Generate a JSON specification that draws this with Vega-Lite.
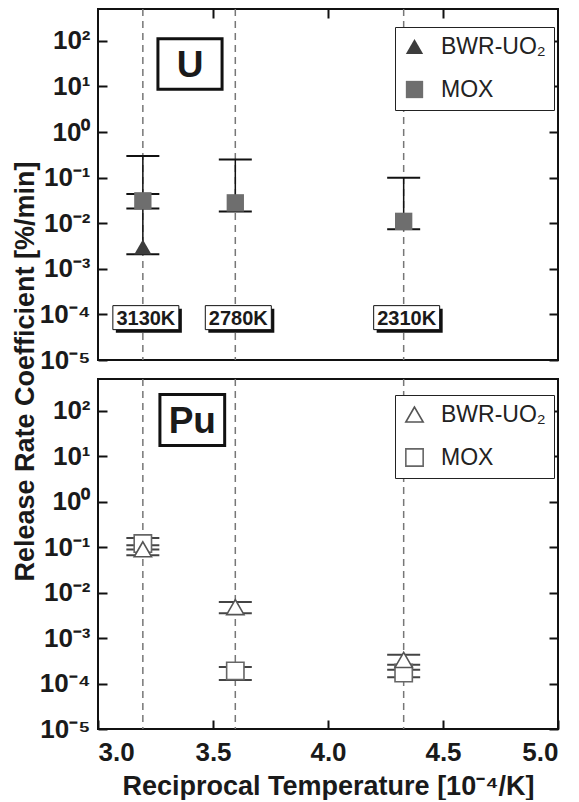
{
  "$schema": "https://vega.github.io/schema/vega-lite/v6.json",
  "background": "white",
  "padding": {"left": 10, "top": 7, "right": 0, "bottom": 0},
  "bounds": "flush",
  "spacing": 19,
  "config": {
    "font": "Liberation Sans",
    "view": {"stroke": "#111", "strokeWidth": 2},
    "axis": {"grid": false}
  },
  "resolve": {
    "scale": {"shape": "independent", "color": "independent", "stroke": "independent"},
    "legend": {"shape": "independent", "color": "independent", "stroke": "independent"}
  },
  "datasets": {
    "temps": [
      {"T": "3130K", "rx": 3.195},
      {"T": "2780K", "rx": 3.597},
      {"T": "2310K", "rx": 4.329}
    ],
    "panels": [{"element": "U"}, {"element": "Pu"}],
    "pts": [
      {"element": "U", "series": "MOX", "rx": 3.195, "value": 0.031, "lo": 0.021, "hi": 0.3},
      {"element": "U", "series": "MOX", "rx": 3.597, "value": 0.028, "lo": 0.018, "hi": 0.25},
      {"element": "U", "series": "MOX", "rx": 4.329, "value": 0.011, "lo": 0.0074, "hi": 0.1},
      {"element": "U", "series": "BWR-UO₂", "rx": 3.195, "value": 0.003, "lo": 0.0021, "hi": 0.044},
      {"element": "Pu", "series": "MOX", "rx": 3.195, "value": 0.12, "lo": 0.089, "hi": 0.16},
      {"element": "Pu", "series": "MOX", "rx": 3.597, "value": 0.00019, "lo": 0.00012, "hi": 0.00023},
      {"element": "Pu", "series": "MOX", "rx": 4.329, "value": 0.00017, "lo": 0.000138, "hi": 0.0002},
      {"element": "Pu", "series": "BWR-UO₂", "rx": 3.195, "value": 0.09, "lo": 0.066, "hi": 0.11},
      {"element": "Pu", "series": "BWR-UO₂", "rx": 3.597, "value": 0.0048, "lo": 0.0035, "hi": 0.0062},
      {"element": "Pu", "series": "BWR-UO₂", "rx": 4.329, "value": 0.00033, "lo": 0.00026, "hi": 0.00043}
    ]
  },
  "vconcat": [
    {
      "width": 460,
      "height": 351,
      "resolve": {"axis": {"y": "independent"}},
      "layer": [
        {
          "data": {"name": "temps"},
          "mark": {"type": "rule", "strokeDash": [7, 5], "color": "#777", "strokeWidth": 1.5},
          "encoding": {
            "x": {"field": "rx", "type": "quantitative", "scale": {"domain": [3, 5], "nice": false},
              "axis": {"orient": "top", "values": [3.5, 4, 4.5], "labels": false, "tickSize": -9, "tickWidth": 2, "tickColor": "#111", "domain": false, "title": null}}
          }
        },
        {
          "data": {"name": "pts"},
          "transform": [{"filter": "datum.element === 'U'"}],
          "mark": {"type": "rule", "color": "#111", "strokeWidth": 1.5},
          "encoding": {
            "x": {"field": "rx", "type": "quantitative"},
            "y": {"field": "lo", "type": "quantitative", "scale": {"type": "log", "domain": [0.00001, 500], "nice": false},
              "axis": {"orient": "left", "values": [0.00001, 0.0001, 0.001, 0.01, 0.1, 1, 10, 100], "tickSize": -9, "tickWidth": 2, "tickColor": "#111", "domain": false,
                "labelFontSize": 26, "labelFontWeight": "bold", "labelColor": "#1a1a1a", "labelPadding": 17,
                "labelExpr": "'10' + replace(replace(replace(replace(replace(replace(replace(toString(round(log(datum.value)/LN10)),'-','⁻'),'0','⁰'),'1','¹'),'2','²'),'3','³'),'4','⁴'),'5','⁵')",
                "title": "Release Rate Coefficient [%/min]", "titleFontSize": 27, "titleFontWeight": "bold", "titleColor": "#1a1a1a", "titleY": 362, "titlePadding": 0}},
            "y2": {"field": "hi"}
          }
        },
        {
          "data": {"name": "pts"},
          "transform": [{"filter": "datum.element === 'U'"}],
          "mark": {"type": "tick", "orient": "horizontal", "size": 33, "thickness": 2, "color": "#111", "opacity": 1},
          "encoding": {
            "x": {"field": "rx", "type": "quantitative"},
            "y": {"field": "lo", "type": "quantitative", "axis": null}
          }
        },
        {
          "data": {"name": "pts"},
          "transform": [{"filter": "datum.element === 'U'"}],
          "mark": {"type": "tick", "orient": "horizontal", "size": 33, "thickness": 2, "color": "#111", "opacity": 1},
          "encoding": {
            "x": {"field": "rx", "type": "quantitative"},
            "y": {"field": "hi", "type": "quantitative", "axis": null}
          }
        },
        {
          "data": {"name": "pts"},
          "transform": [{"filter": "datum.element === 'U'"}],
          "mark": {"type": "point", "filled": true, "size": 300, "opacity": 1},
          "encoding": {
            "x": {"field": "rx", "type": "quantitative"},
            "y": {"field": "value", "type": "quantitative",
              "axis": {"orient": "right", "values": [0.00001, 0.0001, 0.001, 0.01, 0.1, 1, 10, 100], "labels": false, "tickSize": -9, "tickWidth": 2, "tickColor": "#111", "domain": false, "title": null}},
            "shape": {"field": "series", "type": "nominal", "scale": {"domain": ["BWR-UO₂", "MOX"], "range": ["triangle-up", "square"]},
              "legend": {"orient": "none", "legendX": 297, "legendY": 18, "title": null, "strokeColor": "#222", "fillColor": "white", "padding": 8, "rowPadding": 18, "labelOffset": 15, "labelFontSize": 23, "labelColor": "#222", "symbolSize": 300, "symbolOpacity": 1}},
            "color": {"field": "series", "type": "nominal", "scale": {"domain": ["BWR-UO₂", "MOX"], "range": ["#3d3d3d", "#6e6e6e"]},
              "legend": {"orient": "none", "legendX": 297, "legendY": 18, "title": null, "strokeColor": "#222", "fillColor": "white", "padding": 8, "rowPadding": 18, "labelOffset": 15, "labelFontSize": 23, "labelColor": "#222", "symbolSize": 300, "symbolOpacity": 1}}
          }
        },
        {
          "data": {"name": "temps"},
          "mark": {"type": "point", "shape": "M-2.75,-1H2.75V1H-2.75Z", "size": 576, "filled": true, "color": "#111", "opacity": 1, "xOffset": 6, "yOffset": 3},
          "encoding": {
            "x": {"field": "rx", "type": "quantitative"},
            "y": {"datum": 0.000085, "type": "quantitative", "axis": null}
          }
        },
        {
          "data": {"name": "temps"},
          "mark": {"type": "point", "shape": "M-2.75,-1H2.75V1H-2.75Z", "size": 576, "fill": "white", "fillOpacity": 1, "stroke": "#111", "strokeWidth": 1, "opacity": 1, "xOffset": 3},
          "encoding": {
            "x": {"field": "rx", "type": "quantitative"},
            "y": {"datum": 0.000085, "type": "quantitative", "axis": null}
          }
        },
        {
          "data": {"name": "temps"},
          "mark": {"type": "text", "fontSize": 20, "fontWeight": "bold", "color": "#1a1a1a", "baseline": "middle", "align": "center", "xOffset": 3, "dy": 1},
          "encoding": {
            "x": {"field": "rx", "type": "quantitative"},
            "y": {"datum": 0.000085, "type": "quantitative", "axis": null},
            "text": {"field": "T"}
          }
        },
        {
          "data": {"name": "panels"},
          "transform": [{"filter": "datum.element === 'U'"}],
          "mark": {"type": "point", "shape": "M-1.27,-1H1.27V1H-1.27Z", "size": 2550, "fill": "white", "fillOpacity": 1, "stroke": "#111", "strokeWidth": 3, "opacity": 1},
          "encoding": {
            "x": {"datum": 3.4, "type": "quantitative"},
            "y": {"datum": 31, "type": "quantitative", "axis": null}
          }
        },
        {
          "data": {"name": "panels"},
          "transform": [{"filter": "datum.element === 'U'"}],
          "mark": {"type": "text", "fontSize": 37, "fontWeight": "bold", "color": "#1a1a1a", "baseline": "middle", "align": "center", "dy": 2},
          "encoding": {
            "x": {"datum": 3.4, "type": "quantitative"},
            "y": {"datum": 31, "type": "quantitative", "axis": null},
            "text": {"field": "element"}
          }
        }
      ]
    },
    {
      "width": 460,
      "height": 350,
      "resolve": {"axis": {"y": "independent"}},
      "layer": [
        {
          "data": {"name": "temps"},
          "mark": {"type": "rule", "strokeDash": [7, 5], "color": "#777", "strokeWidth": 1.5},
          "encoding": {
            "x": {"field": "rx", "type": "quantitative", "scale": {"domain": [3, 5], "nice": false},
              "axis": {"orient": "bottom", "values": [3, 3.5, 4, 4.5, 5], "format": ".1f", "tickSize": -9, "tickWidth": 2, "tickColor": "#111", "domain": false,
                "labelFontSize": 26, "labelFontWeight": "bold", "labelColor": "#1a1a1a", "labelPadding": 19,
                "title": "Reciprocal Temperature [10⁻⁴/K]", "titleFontSize": 27, "titleFontWeight": "bold", "titleColor": "#1a1a1a", "titlePadding": 8}}
          }
        },
        {
          "data": {"name": "pts"},
          "transform": [{"filter": "datum.element === 'Pu'"}],
          "mark": {"type": "rule", "color": "#555", "strokeWidth": 1.5},
          "encoding": {
            "x": {"field": "rx", "type": "quantitative"},
            "y": {"field": "lo", "type": "quantitative", "scale": {"type": "log", "domain": [0.00001, 500], "nice": false},
              "axis": {"orient": "left", "values": [0.00001, 0.0001, 0.001, 0.01, 0.1, 1, 10, 100], "tickSize": -9, "tickWidth": 2, "tickColor": "#111", "domain": false,
                "labelFontSize": 26, "labelFontWeight": "bold", "labelColor": "#1a1a1a", "labelPadding": 17,
                "labelExpr": "'10' + replace(replace(replace(replace(replace(replace(replace(toString(round(log(datum.value)/LN10)),'-','⁻'),'0','⁰'),'1','¹'),'2','²'),'3','³'),'4','⁴'),'5','⁵')",
                "title": null}},
            "y2": {"field": "hi"}
          }
        },
        {
          "data": {"name": "pts"},
          "transform": [{"filter": "datum.element === 'Pu'"}],
          "mark": {"type": "tick", "orient": "horizontal", "size": 33, "thickness": 2, "color": "#444", "opacity": 1},
          "encoding": {
            "x": {"field": "rx", "type": "quantitative"},
            "y": {"field": "lo", "type": "quantitative", "axis": null}
          }
        },
        {
          "data": {"name": "pts"},
          "transform": [{"filter": "datum.element === 'Pu'"}],
          "mark": {"type": "tick", "orient": "horizontal", "size": 33, "thickness": 2, "color": "#444", "opacity": 1},
          "encoding": {
            "x": {"field": "rx", "type": "quantitative"},
            "y": {"field": "hi", "type": "quantitative", "axis": null}
          }
        },
        {
          "data": {"name": "pts"},
          "transform": [{"filter": "datum.element === 'Pu'"}],
          "mark": {"type": "point", "size": 300, "fill": "white", "fillOpacity": 1, "strokeWidth": 1.6, "opacity": 1},
          "encoding": {
            "x": {"field": "rx", "type": "quantitative"},
            "y": {"field": "value", "type": "quantitative",
              "axis": {"orient": "right", "values": [0.00001, 0.0001, 0.001, 0.01, 0.1, 1, 10, 100], "labels": false, "tickSize": -9, "tickWidth": 2, "tickColor": "#111", "domain": false, "title": null}},
            "shape": {"field": "series", "type": "nominal", "scale": {"domain": ["BWR-UO₂", "MOX"], "range": ["triangle-up", "square"]},
              "legend": {"orient": "none", "legendX": 297, "legendY": 16, "title": null, "strokeColor": "#222", "fillColor": "white", "padding": 8, "rowPadding": 18, "labelOffset": 15, "labelFontSize": 23, "labelColor": "#222", "symbolSize": 300, "symbolFillColor": "white", "symbolStrokeWidth": 1.6, "symbolOpacity": 1}},
            "stroke": {"field": "series", "type": "nominal", "scale": {"domain": ["BWR-UO₂", "MOX"], "range": ["#555", "#666"]},
              "legend": {"orient": "none", "legendX": 297, "legendY": 16, "title": null, "strokeColor": "#222", "fillColor": "white", "padding": 8, "rowPadding": 18, "labelOffset": 15, "labelFontSize": 23, "labelColor": "#222", "symbolSize": 300, "symbolFillColor": "white", "symbolStrokeWidth": 1.6, "symbolOpacity": 1}}
          }
        },
        {
          "data": {"name": "panels"},
          "transform": [{"filter": "datum.element === 'Pu'"}],
          "mark": {"type": "point", "shape": "M-1.27,-1H1.27V1H-1.27Z", "size": 2600, "fill": "white", "fillOpacity": 1, "stroke": "#111", "strokeWidth": 3, "opacity": 1},
          "encoding": {
            "x": {"datum": 3.41, "type": "quantitative"},
            "y": {"datum": 63, "type": "quantitative", "axis": null}
          }
        },
        {
          "data": {"name": "panels"},
          "transform": [{"filter": "datum.element === 'Pu'"}],
          "mark": {"type": "text", "fontSize": 37, "fontWeight": "bold", "color": "#1a1a1a", "baseline": "middle", "align": "center", "dy": 2},
          "encoding": {
            "x": {"datum": 3.41, "type": "quantitative"},
            "y": {"datum": 63, "type": "quantitative", "axis": null},
            "text": {"field": "element"}
          }
        }
      ]
    }
  ]
}
